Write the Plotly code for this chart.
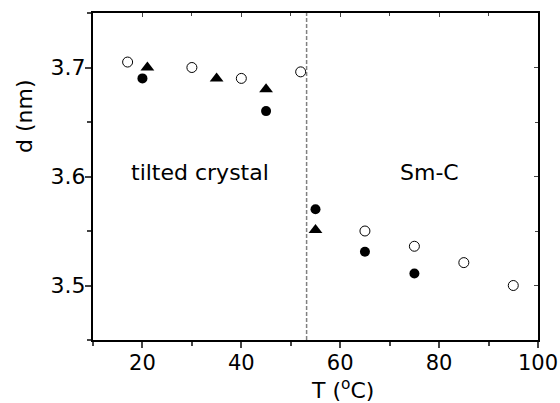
import plotly.graph_objects as go

# Data
open_T = [17, 30, 40, 52, 65, 75, 85, 95]
open_d = [3.705, 3.700, 3.690, 3.696, 3.550, 3.536, 3.521, 3.500]

filled_T = [20, 45, 55, 65, 75]
filled_d = [3.690, 3.660, 3.570, 3.531, 3.511]

tri_T = [21, 35, 45, 55]
tri_d = [3.700, 3.690, 3.680, 3.551]

transition_T = 53.2
x_range = [10, 100]
y_range = [3.45, 3.75]
x_ticks = [20, 40, 60, 80, 100]
y_ticks = [3.5, 3.6, 3.7]

FONT = "DejaVu Sans"

W, H = 560, 403
L, R, T, B = 93, 22, 13, 63
PW, PH = W - L - R, H - T - B


def px_to_paper(xp, yp):
    return (xp - L) / PW, (H - B - yp) / PH


fig = go.Figure()
fig.add_trace(go.Scatter(x=open_T, y=open_d, mode="markers",
                         marker=dict(symbol="circle", size=10, color="white",
                                     line=dict(color="black", width=1)),
                         showlegend=False))
fig.add_trace(go.Scatter(x=filled_T, y=filled_d, mode="markers",
                         marker=dict(symbol="circle", size=10, color="black"),
                         showlegend=False))
fig.add_trace(go.Scatter(x=tri_T, y=tri_d, mode="markers",
                         marker=dict(symbol="triangle-up", size=12, color="black"),
                         showlegend=False))
fig.add_trace(go.Scatter(x=[transition_T, transition_T], y=y_range, mode="lines",
                         line=dict(color="#808080", width=1.5, dash="4px,2px"),
                         showlegend=False, hoverinfo="skip"))
# invisible trace so the mirrored (top/right) axes render
fig.add_trace(go.Scatter(x=[None], y=[None], xaxis="x2", yaxis="y2",
                         showlegend=False, hoverinfo="skip"))

fig.update_layout(
    width=W, height=H,
    margin=dict(l=L, r=R, t=T, b=B, autoexpand=False),
    paper_bgcolor="white", plot_bgcolor="white",
    font=dict(family=FONT, size=21, color="black"),
    xaxis=dict(range=x_range, tickvals=x_ticks, ticks="outside", ticklen=6,
               tickwidth=1.5, showline=True, linewidth=2, linecolor="black",
               showgrid=False, zeroline=False, ticklabelstandoff=-3, automargin=False,
               minor=dict(dtick=10, tick0=0, ticks="outside", ticklen=4, tickwidth=1.5),
               tickfont=dict(family=FONT, size=21)),
    yaxis=dict(range=y_range, tickvals=y_ticks, ticks="outside", ticklen=6,
               tickwidth=1.5, showline=True, linewidth=2, linecolor="black",
               showgrid=False, zeroline=False, tickformat=".1f", ticklabelstandoff=-5,
               automargin=False,
               minor=dict(dtick=0.05, tick0=3.45, ticks="outside", ticklen=4, tickwidth=1.5),
               tickfont=dict(family=FONT, size=22)),
    xaxis2=dict(range=x_range, overlaying="x", side="top", tickvals=x_ticks,
                ticks="inside", ticklen=4, tickwidth=1, showticklabels=False,
                showline=True, linewidth=2, linecolor="black", showgrid=False,
                zeroline=False, automargin=False,
                minor=dict(dtick=10, tick0=0, ticks="inside", ticklen=3, tickwidth=1)),
    yaxis2=dict(range=y_range, overlaying="y", side="right", tickvals=y_ticks,
                ticks="inside", ticklen=4, tickwidth=1, showticklabels=False,
                showline=True, linewidth=2, linecolor="black", showgrid=False,
                zeroline=False, automargin=False,
                minor=dict(dtick=0.05, tick0=3.45, ticks="inside", ticklen=3, tickwidth=1)),
)

fig.add_annotation(text="tilted crystal", x=31.7, y=3.604, xref="x", yref="y",
                   showarrow=False, font=dict(family=FONT, size=22))
fig.add_annotation(text="Sm-C", x=78, y=3.604, xref="x", yref="y",
                   showarrow=False, font=dict(family=FONT, size=22))

tx, ty = px_to_paper(342, 389)
fig.add_annotation(text="T (<sup>o</sup>C)", x=tx, y=ty, xref="paper", yref="paper",
                   xanchor="center", yanchor="middle",
                   showarrow=False, font=dict(family=FONT, size=22))
dx, dy = px_to_paper(24, 116)
fig.add_annotation(text="d (nm)", x=dx, y=dy, xref="paper", yref="paper",
                   xanchor="center", yanchor="middle",
                   showarrow=False, textangle=-90, font=dict(family=FONT, size=22))

fig.write_html("out.html")
